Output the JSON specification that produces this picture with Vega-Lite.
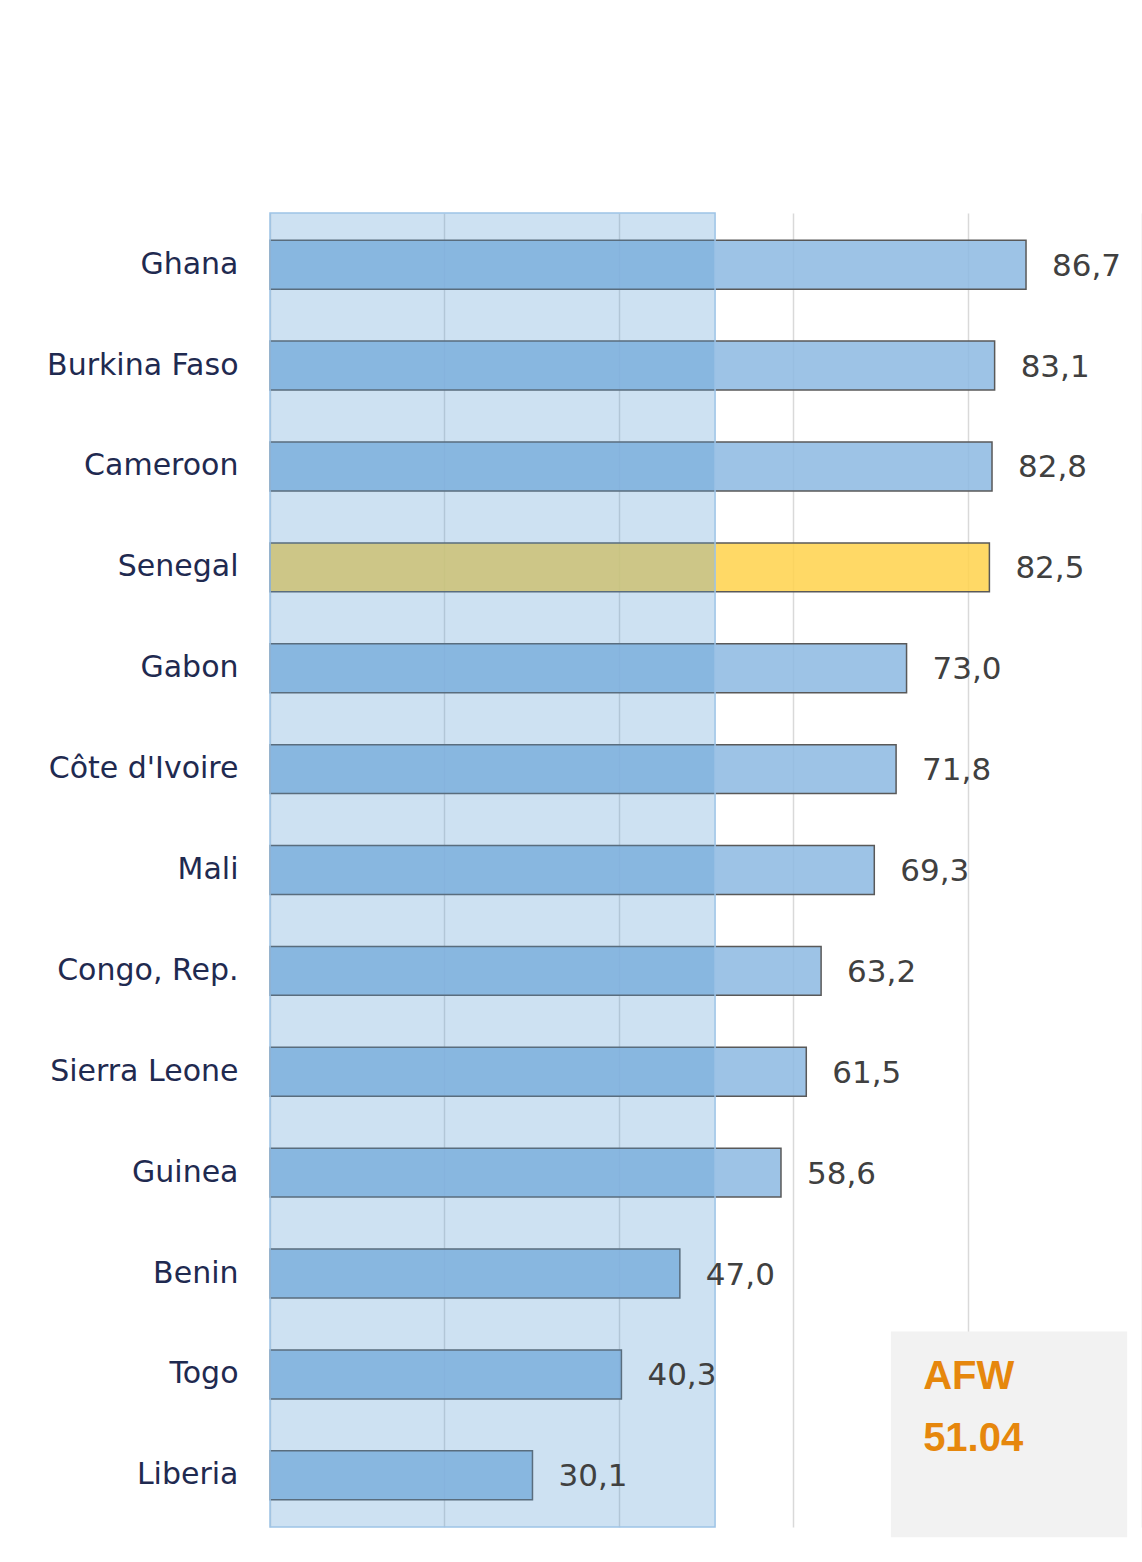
{
  "$schema": "https://vega.github.io/schema/vega-lite/v6.json",
  "width": 872,
  "height": 1314,
  "autosize": {"type": "none"},
  "padding": {"left": 270, "top": 213, "right": 0, "bottom": 35},
  "background": "white",
  "config": {
    "view": {"stroke": null},
    "locale": {"number": {"decimal": ",", "thousands": ".", "grouping": [3], "currency": ["", " €"]}}
  },
  "datasets": {
    "countries": [
      {"country": "Ghana", "value": 86.7},
      {"country": "Burkina Faso", "value": 83.1},
      {"country": "Cameroon", "value": 82.8},
      {"country": "Senegal", "value": 82.5},
      {"country": "Gabon", "value": 73.0},
      {"country": "Côte d'Ivoire", "value": 71.8},
      {"country": "Mali", "value": 69.3},
      {"country": "Congo, Rep.", "value": 63.2},
      {"country": "Sierra Leone", "value": 61.5},
      {"country": "Guinea", "value": 58.6},
      {"country": "Benin", "value": 47.0},
      {"country": "Togo", "value": 40.3},
      {"country": "Liberia", "value": 30.1}
    ],
    "afw": [{"region": "AFW", "avg": 51.04}]
  },
  "layer": [
    {
      "data": {"name": "countries"},
      "mark": {"type": "bar", "stroke": "#595959", "strokeWidth": 1.5, "fillOpacity": 0.85},
      "encoding": {
        "y": {
          "field": "country", "type": "nominal", "sort": null,
          "scale": {"paddingInner": 0.515, "paddingOuter": 0.27},
          "axis": {"title": null, "domain": false, "ticks": false, "labelPadding": 32, "labelLimit": 0,
                   "labelFont": "DejaVu Sans", "labelFontSize": 30, "labelColor": "#1F2A50"}
        },
        "x": {
          "field": "value", "type": "quantitative",
          "scale": {"domain": [0, 100], "nice": false},
          "axis": {"title": null, "labels": false, "ticks": false, "domain": false,
                   "values": [0, 20, 40, 60, 80, 100], "grid": true,
                   "gridColor": "#D9D9D9", "gridWidth": 1.5}
        },
        "color": {
          "condition": {"test": "datum.country === 'Senegal'", "value": "#FFD24B"},
          "value": "#8CB8E2"
        }
      }
    },
    {
      "data": {"name": "afw"},
      "mark": {"type": "rect", "fill": "#5B9BD5", "fillOpacity": 0.3, "stroke": "#9DC3E6", "strokeWidth": 1.5},
      "encoding": {
        "x": {"field": "avg", "type": "quantitative"},
        "x2": {"datum": 0}
      }
    },
    {
      "data": {"name": "countries"},
      "mark": {"type": "text", "align": "left", "baseline": "middle", "dx": 26, "dy": 2,
               "font": "DejaVu Sans", "fontSize": 31, "color": "#404040"},
      "encoding": {
        "y": {"field": "country", "type": "nominal", "sort": null},
        "x": {"field": "value", "type": "quantitative"},
        "text": {"field": "value", "type": "quantitative", "format": ".1f"}
      }
    },
    {
      "data": {"name": "afw"},
      "mark": {"type": "rect", "fill": "#F2F2F2", "yOffset": -43, "y2Offset": 62},
      "encoding": {
        "x": {"datum": 71.2},
        "x2": {"datum": 98.3},
        "y": {"datum": "Togo"},
        "y2": {"datum": "Liberia"}
      }
    },
    {
      "data": {"name": "afw"},
      "mark": {"type": "text", "align": "left", "baseline": "middle", "dy": 3,
               "font": "Liberation Sans", "fontWeight": "bold", "fontSize": 40, "color": "#E6870D"},
      "encoding": {
        "x": {"datum": 74.9},
        "y": {"datum": "Togo"},
        "text": {"field": "region", "type": "nominal"}
      }
    },
    {
      "data": {"name": "afw"},
      "mark": {"type": "text", "align": "left", "baseline": "middle", "dy": -36,
               "font": "Liberation Sans", "fontWeight": "bold", "fontSize": 40, "color": "#E6870D"},
      "encoding": {
        "x": {"datum": 74.9},
        "y": {"datum": "Liberia"},
        "text": {"field": "avg", "type": "nominal"}
      }
    }
  ]
}
